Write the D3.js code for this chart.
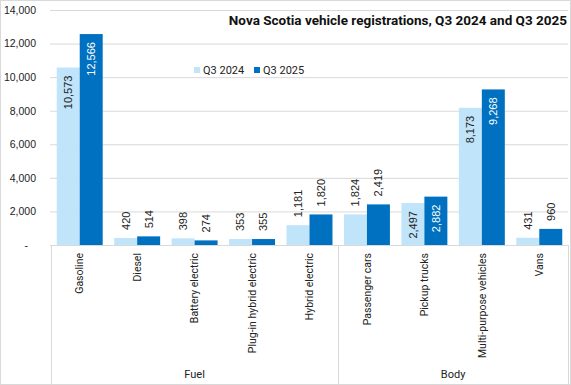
<!DOCTYPE html>
<html>
<head>
<meta charset="utf-8">
<script src="https://cdn.jsdelivr.net/npm/d3@7"></script>
<style>
  body { margin: 0; background: #fff; }
  svg { display: block; }
</style>
</head>
<body>
<div id="chart"></div>
<script>
// data
var categories = ["Gasoline", "Diesel", "Battery electric", "Plug-in hybrid electric", "Hybrid electric",
                  "Passenger cars", "Pickup trucks", "Multi-purpose vehicles", "Vans"];
var q3_2024 = [10573, 420, 398, 353, 1181, 1824, 2497, 8173, 431];
var q3_2025 = [12566, 514, 274, 355, 1820, 2419, 2882, 9268, 960];
var seriesNames = ["Q3 2024", "Q3 2025"];
var groups = [{name: "Fuel", count: 5}, {name: "Body", count: 4}];
var yTicks = [0, 2000, 4000, 6000, 8000, 10000, 12000, 14000];
// labels that sit inside the bar end
var insideCats = ["Gasoline", "Pickup trucks", "Multi-purpose vehicles"];

var W = 571, H = 385;
var colors = ["#c0e4f9", "#0070c0"];
var grid = "#d9d9d9";

var svg = d3.select("#chart").append("svg")
  .attr("width", W)
  .attr("height", H);

// chart border
svg.append("rect")
  .attr("x", 0.5).attr("y", 0.5)
  .attr("width", W - 1).attr("height", H - 1)
  .attr("fill", "#fff")
  .attr("stroke", grid);

// scales
var x = d3.scaleBand()
  .domain(categories)
  .range([51, 568])
  .paddingInner(0.2)
  .paddingOuter(0.1);

var xs = d3.scaleBand()
  .domain(seriesNames)
  .range([0, x.bandwidth()]);

var y = d3.scaleLinear()
  .domain([0, 14000])
  .range([245, 10]);

// gridlines
svg.append("g").selectAll("line")
  .data(yTicks.slice(1))
  .enter().append("line")
  .attr("x1", 50).attr("x2", 568)
  .attr("y1", function(d) { return y(d) + 0.5; })
  .attr("y2", function(d) { return y(d) + 0.5; })
  .attr("stroke", grid);

// y axis labels
var yAxis = d3.axisLeft(y)
  .tickValues(yTicks)
  .tickSize(0)
  .tickPadding(0)
  .tickFormat(function(d) { return d === 0 ? "-" : d3.format(",")(d); });

var ya = svg.append("g")
  .attr("transform", "translate(36,0)")
  .call(yAxis);
ya.select(".domain").remove();
ya.selectAll("text")
  .attr("font-family", "'Liberation Sans', Arial, sans-serif")
  .attr("font-size", "10.5px")
  .attr("fill", "#222");
ya.selectAll(".tick").filter(function(d) { return d === 0; }).select("text")
  .attr("dx", "-8");

// bars
var rows = categories.map(function(c, i) {
  return {cat: c, vals: [q3_2024[i], q3_2025[i]]};
});

var catG = svg.append("g").selectAll("g")
  .data(rows)
  .enter().append("g")
  .attr("transform", function(d) { return "translate(" + x(d.cat) + ",0)"; });

catG.selectAll("rect")
  .data(function(d) { return d.vals.map(function(v, j) { return {cat: d.cat, v: v, j: j}; }); })
  .enter().append("rect")
  .attr("x", function(d) { return xs(seriesNames[d.j]); })
  .attr("width", xs.bandwidth())
  .attr("y", function(d) { return y(d.v); })
  .attr("height", function(d) { return y(0) - y(d.v); })
  .attr("fill", function(d) { return colors[d.j]; });

// data labels, rotated
catG.selectAll("text")
  .data(function(d) { return d.vals.map(function(v, j) { return {cat: d.cat, v: v, j: j}; }); })
  .enter().append("text")
  .attr("transform", function(d) {
    var cx = xs(seriesNames[d.j]) + xs.bandwidth() / 2;
    var inside = insideCats.indexOf(d.cat) >= 0;
    var cy = inside ? y(d.v) + 8 : y(d.v) - 8;
    return "translate(" + cx + "," + cy + ") rotate(-90)";
  })
  .attr("text-anchor", function(d) { return insideCats.indexOf(d.cat) >= 0 ? "end" : "start"; })
  .attr("dy", "0.35em")
  .attr("font-family", "'Liberation Sans', Arial, sans-serif")
  .attr("font-size", "11px")
  .attr("fill", function(d) {
    return (insideCats.indexOf(d.cat) >= 0 && d.j === 1) ? "#fff" : "#222";
  })
  .text(function(d) { return d3.format(",")(d.v); });

// baseline
svg.append("line")
  .attr("x1", 50).attr("x2", 568)
  .attr("y1", y(0) + 0.5).attr("y2", y(0) + 0.5)
  .attr("stroke", grid);

// category labels
svg.append("g").selectAll("text")
  .data(categories)
  .enter().append("text")
  .attr("transform", function(d) { return "translate(" + (x(d) + x.bandwidth() / 2) + ",253) rotate(-90)"; })
  .attr("text-anchor", "end")
  .attr("dy", "0.35em")
  .attr("font-family", "Roboto, sans-serif")
  .attr("font-size", "10.5px")
  .attr("fill", "#222")
  .text(function(d) { return d; });

// group separators and labels
var step = x.step();
var start = x.range()[0];
var bounds = [start];
var acc = 0;
groups.forEach(function(g) { acc += g.count; bounds.push(start + acc * step); });

svg.append("g").selectAll("line")
  .data(bounds)
  .enter().append("line")
  .attr("x1", function(d) { return Math.round(d) + 0.5; })
  .attr("x2", function(d) { return Math.round(d) + 0.5; })
  .attr("y1", 245).attr("y2", H)
  .attr("stroke", grid);

svg.append("g").selectAll("text")
  .data(groups)
  .enter().append("text")
  .attr("x", function(d, i) { return (bounds[i] + bounds[i + 1]) / 2; })
  .attr("y", 378)
  .attr("text-anchor", "middle")
  .attr("font-family", "Roboto, sans-serif")
  .attr("font-size", "11px")
  .attr("fill", "#222")
  .text(function(d) { return d.name; });

// title
svg.append("text")
  .attr("x", 567)
  .attr("y", 25)
  .attr("text-anchor", "end")
  .attr("font-family", "Roboto, sans-serif")
  .attr("font-weight", "bold")
  .attr("font-size", "13.5px")
  .attr("fill", "#111")
  .text("Nova Scotia vehicle registrations, Q3 2024 and Q3 2025");

// legend
var legend = svg.append("g").attr("transform", "translate(194,70)");
var lg = legend.selectAll("g")
  .data(seriesNames)
  .enter().append("g")
  .attr("transform", function(d, i) { return "translate(" + (i * 60) + ",0)"; });
lg.append("rect")
  .attr("x", 0).attr("y", -3)
  .attr("width", 6).attr("height", 6)
  .attr("fill", function(d, i) { return colors[i]; });
lg.append("text")
  .attr("x", 9)
  .attr("dy", "0.35em")
  .attr("font-family", "Roboto, sans-serif")
  .attr("font-size", "11px")
  .attr("fill", "#222")
  .text(function(d) { return d; });
</script>
</body>
</html>
